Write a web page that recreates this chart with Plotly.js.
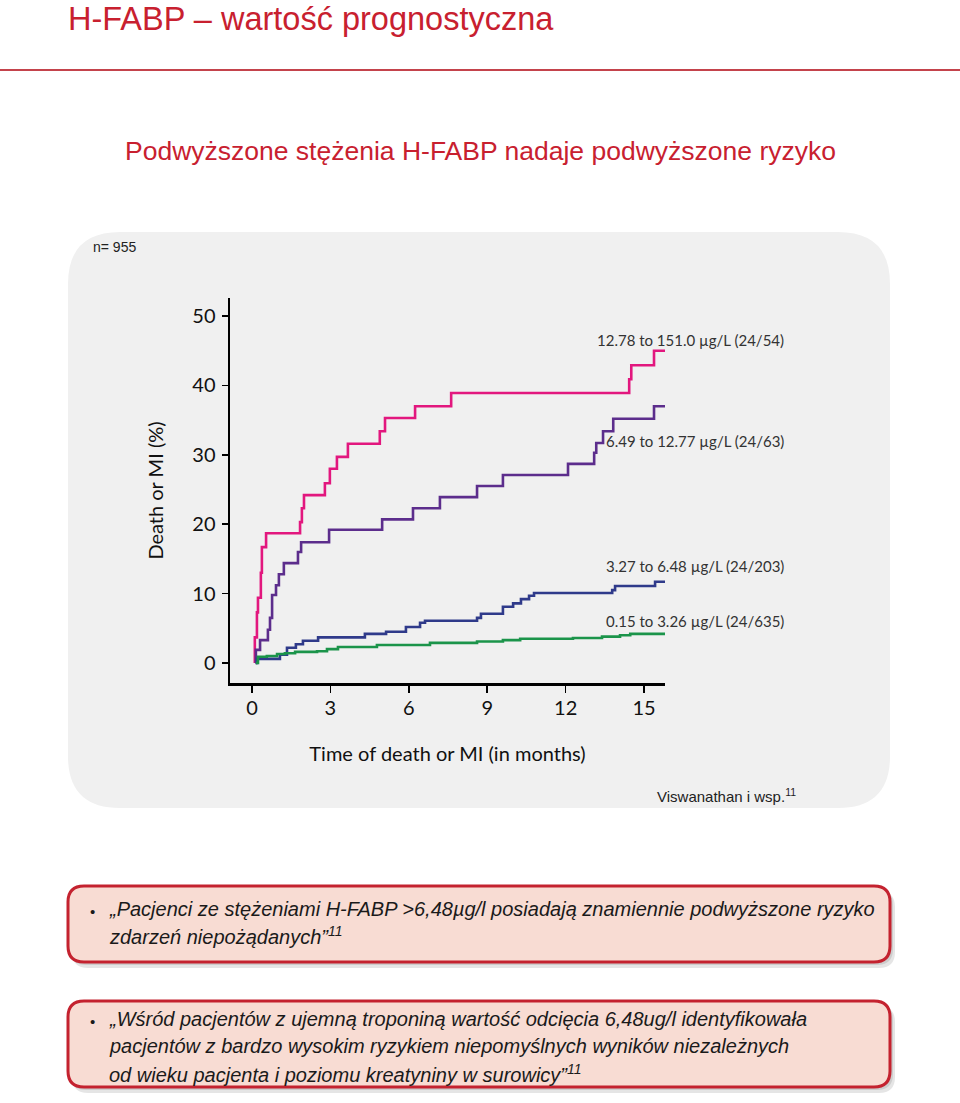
<!DOCTYPE html>
<html>
<head>
<meta charset="utf-8">
<script src="https://cdn.plot.ly/plotly-3.0.1.min.js"></script>
<style>html,body{margin:0;padding:0;background:#fff;}#chart{width:960px;height:1103px;}</style>
</head>
<body>
<div id="chart"></div>
<script>
// ---------------- DATA ----------------
const seriesNames = [
  "12.78 to 151.0 \u00b5g/L (24/54)",
  "6.49 to 12.77 \u00b5g/L (24/63)",
  "3.27 to 6.48 \u00b5g/L (24/203)",
  "0.15 to 3.26 \u00b5g/L (24/635)"
];
const pinkTime = [0.11,0.11,0.19,0.23,0.34,0.38,0.54,1.84,1.91,1.99,2.79,2.98,3.25,3.67,4.89,5.09,6.24,7.62,14.43,14.51,15.38,15.81];
const pinkRisk = [0,3.7,7.3,9.4,13.0,16.7,18.7,20.3,22.3,24.2,25.9,28.0,29.7,31.6,33.4,35.3,37.0,38.9,40.9,42.9,45.0,45.0];
const purpleTime = [0.13,0.15,0.31,0.61,0.69,0.77,0.92,1.03,1.22,1.76,1.88,2.95,4.98,6.16,7.19,8.61,9.60,12.09,13.09,13.17,13.43,13.82,15.38,15.81];
const purpleRisk = [0,1.9,3.3,4.8,6.5,9.8,11.2,12.8,14.4,16.0,17.4,19.2,20.7,22.3,23.9,25.5,27.1,28.7,30.3,31.7,33.4,35.2,37.0,37.0];
const blueTime = [0.15,0.19,1.07,1.34,1.68,1.95,2.53,4.32,5.13,5.89,6.43,6.62,8.61,8.76,9.60,9.99,10.29,10.60,10.79,13.78,13.89,15.42,15.81];
const blueRisk = [0,0.6,1.2,2.2,2.7,3.2,3.7,4.2,4.5,5.2,5.8,6.1,6.5,7.1,8.1,8.6,9.2,9.7,10.1,10.5,11.1,11.7,11.7];
const greenTime = [0.15,0.23,0.57,0.96,1.26,1.65,2.49,2.87,3.29,4.78,6.81,8.61,9.60,10.26,12.28,13.39,14.08,14.47,15.81];
const greenRisk = [0,0.9,1.0,1.3,1.4,1.6,1.7,2.0,2.3,2.6,2.9,3.1,3.3,3.5,3.6,3.8,4.0,4.2,4.2];
const xTicks = [0,3,6,9,12,15];
const yTicks = [0,10,20,30,40,50];

// ---------------- STYLE / LAYOUT ----------------
const colors = ["#e2177e","#5c2d8c","#2f3a8a","#1b944a"];
const RED = "#c8202f";
const L = 230, R = 665, T = 298, B = 683;           // plot area in px
const X = px => (px - L) / (R - L);
const Y = py => (B - py) / (B - T);

function roundRect(x0,y0,x1,y1,r){
  const a = (px,py)=> X(px).toFixed(5)+","+Y(py).toFixed(5);
  return "M"+a(x0+r,y0)+" L"+a(x1-r,y0)+" Q"+a(x1,y0)+" "+a(x1,y0+r)+
         " L"+a(x1,y1-r)+" Q"+a(x1,y1)+" "+a(x1-r,y1)+
         " L"+a(x0+r,y1)+" Q"+a(x0,y1)+" "+a(x0,y1-r)+
         " L"+a(x0,y0+r)+" Q"+a(x0,y0)+" "+a(x0+r,y0)+" Z";
}
function pathShape(path, fill, lineColor, lineWidth){
  return {type:"path", xref:"paper", yref:"paper", path:path, fillcolor:fill,
          line:{color:lineColor||"rgba(0,0,0,0)", width:lineWidth||0}, layer:"below"};
}

const traces = [
  [pinkTime,pinkRisk],[purpleTime,purpleRisk],[blueTime,blueRisk],[greenTime,greenRisk]
].map((d,i)=>({
  x:d[0], y:d[1], type:"scatter", mode:"lines", name:seriesNames[i],
  line:{color:colors[i], width:2.6, shape:"hv"}, hoverinfo:"skip", showlegend:false
}));

const boxFont = {family:"Liberation Sans Narrow, Arial Narrow, Liberation Sans, sans-serif", size:20, color:"#1a1a1a", style:"italic"};
const annotations = [];
function txt(text, px, py, font, xanchor){
  annotations.push({text:text, xref:"paper", yref:"paper", x:X(px), y:Y(py),
    xanchor:xanchor||"left", yanchor:"middle", showarrow:false, font:font, align:"left"});
}
// headings
txt("H-FABP \u2013 warto\u015b\u0107 prognostyczna", 66, 19, {family:"Liberation Sans, sans-serif", size:32.5, color:RED});
txt("Podwy\u017cszone st\u0119\u017cenia H-FABP nadaje podwy\u017cszone ryzyko", 480, 151, {family:"Liberation Sans, sans-serif", size:26.5, color:RED}, "center");
txt("n= 955", 91, 247, {family:"Liberation Sans, sans-serif", size:14, color:"#222"});
// series labels
const labelY = [340,441,566,621];
seriesNames.forEach((n,i)=> txt(n, 786, labelY[i], {family:"Lato, sans-serif", size:15, color:"#333"}, "right"));
txt("Viswanathan i wsp.<sup>11</sup>", 655, 795, {family:"Liberation Sans, Arial, sans-serif", size:15, color:"#222"});
// box texts
txt("\u2022", 88, 911, {family:"Liberation Sans, sans-serif", size:15, color:"#1a1a1a"});
txt("\u201ePacjenci ze st\u0119\u017ceniami H-FABP >6,48\u00b5g/l posiadaj\u0105 znamiennie podwy\u017cszone ryzyko", 107, 909, boxFont);
txt("zdarze\u0144 niepo\u017c\u0105danych\u201d<sup>11</sup>", 107, 935, boxFont);
txt("\u2022", 88, 1021, {family:"Liberation Sans, sans-serif", size:15, color:"#1a1a1a"});
txt("\u201eW\u015br\u00f3d pacjent\u00f3w z ujemn\u0105 troponin\u0105 warto\u015b\u0107 odci\u0119cia 6,48ug/l identyfikowa\u0142a", 107, 1019, boxFont);
txt("pacjent\u00f3w z bardzo wysokim ryzykiem niepomy\u015blnych wynik\u00f3w niezale\u017cnych", 107, 1046, boxFont);
txt("od wieku pacjenta i poziomu kreatyniny w surowicy\u201d<sup>11</sup>", 107, 1073, boxFont);

const shapes = [
  {type:"line", xref:"paper", yref:"paper", x0:X(0), x1:X(960), y0:Y(70), y1:Y(70), line:{color:"#c4434c", width:2}},
  pathShape(roundRect(68,232,890,808,52), "#f0f0f0"),
  pathShape(roundRect(72,891,895,968,16), "rgba(0,0,0,0.10)"),
  pathShape(roundRect(70,889,893,965,16), "rgba(0,0,0,0.10)"),
  pathShape(roundRect(68,886,890,962,16), "#f8dcd3", "#c4222f", 3),
  pathShape(roundRect(72,1006,895,1093,16), "rgba(0,0,0,0.10)"),
  pathShape(roundRect(70,1004,893,1090,16), "rgba(0,0,0,0.10)"),
  pathShape(roundRect(68,1001,890,1087,16), "#f8dcd3", "#c4222f", 3)
];

const axisFont = {family:"Lato, sans-serif", size:20, color:"#111"};
const layout = {
  width:960, height:1103,
  margin:{l:L, r:960-R, t:T, b:1103-B, pad:0},
  paper_bgcolor:"#ffffff", plot_bgcolor:"rgba(0,0,0,0)",
  showlegend:false,
  xaxis:{range:[-0.84,15.8], tickvals:xTicks, ticktext:xTicks.map(String), showgrid:false, zeroline:false,
         showline:true, linecolor:"#000", linewidth:2.5, ticks:"outside", ticklen:7, tickwidth:1.5, tickcolor:"#000",
         tickfont:axisFont, ticklabelstandoff:-2,
         title:{text:"Time of death or MI (in months)", font:axisFont, standoff:30}},
  yaxis:{range:[-2.88,52.6], tickvals:yTicks, ticktext:yTicks.map(String), showgrid:false, zeroline:false,
         showline:true, linecolor:"#000", linewidth:2.5, ticks:"outside", ticklen:6, tickwidth:1.5, tickcolor:"#000",
         tickfont:axisFont, ticklabelstandoff:2,
         title:{text:"Death or MI (%)", font:axisFont, standoff:24}},
  shapes:shapes, annotations:annotations
};
Plotly.newPlot("chart", traces, layout, {displayModeBar:false, staticPlot:true});
</script>
</body>
</html>
